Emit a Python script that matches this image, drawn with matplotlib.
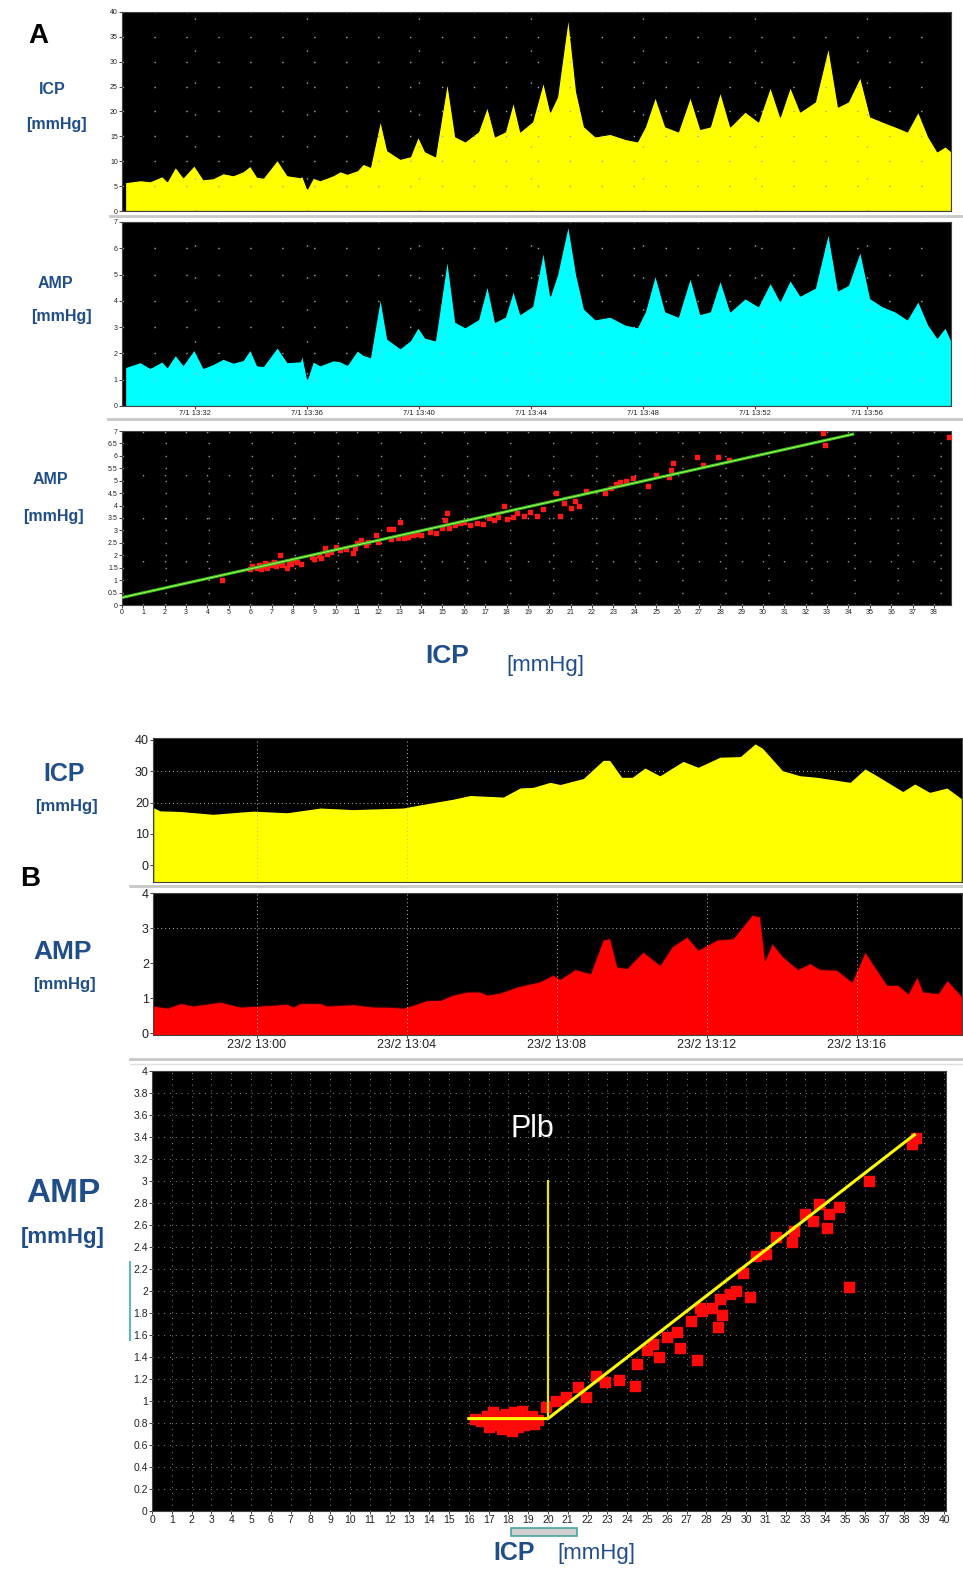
import numpy as np
import matplotlib
matplotlib.use('Agg')
import matplotlib.pyplot as plt
from matplotlib.lines import Line2D
from matplotlib.patches import Rectangle

W, H = 963, 1570

# painel A: tendencias (minutos desde 13:00)
t_a = [29.50, 30.04, 30.39, 30.82, 31.00, 31.29, 31.57, 31.96, 32.29, 32.64,
       33.00, 33.36, 33.71, 33.96, 34.21, 34.43, 34.93, 35.29, 35.75, 35.82,
       36.00, 36.21, 36.46, 36.93, 37.18, 37.43, 37.79, 38.00, 38.25, 38.61,
       38.86, 39.32, 39.68, 39.96, 40.21, 40.57, 41.00, 41.29, 41.64, 42.11,
       42.43, 42.71, 43.07, 43.36, 43.61, 44.04, 44.43, 44.68, 44.93, 45.32,
       45.61, 45.89, 46.29, 46.82, 47.36, 47.79, 48.07, 48.43, 48.79, 49.25,
       49.68, 50.04, 50.39, 50.75, 51.11, 51.64, 52.11, 52.54, 52.89, 53.25,
       53.61, 54.14, 54.61, 54.96, 55.32, 55.75, 56.11, 56.54, 57.00, 57.43,
       57.82, 58.18, 58.50, 58.79, 59.00]
icp_a = [5.8, 6.2, 6.0, 7.0, 6.0, 8.9, 6.8, 9.2, 6.4, 6.6,
         7.6, 7.2, 8.0, 9.1, 6.9, 6.7, 10.3, 7.2, 6.8, 7.1,
         4.5, 6.7, 6.2, 7.2, 8.0, 7.5, 8.2, 9.5, 8.9, 18.3,
         12.2, 10.5, 11.0, 15.0, 12.0, 11.0, 26.0, 15.0, 14.0, 16.0,
         21.0, 15.0, 16.0, 22.0, 16.0, 18.0, 26.0, 20.0, 23.0, 39.0,
         24.0, 17.0, 15.0, 15.5, 14.5, 14.0, 17.0, 23.0, 17.0, 16.0,
         23.0, 16.5, 17.0, 24.0, 17.0, 20.0, 18.0, 25.0, 19.0, 25.0,
         20.0, 22.0, 33.0, 21.0, 22.0, 27.0, 19.0, 18.0, 17.0, 16.0,
         20.0, 15.0, 12.0, 13.0, 12.0]
amp_a = [1.48, 1.67, 1.45, 1.70, 1.48, 1.95, 1.57, 2.15, 1.45, 1.60,
         1.80, 1.65, 1.75, 2.15, 1.55, 1.52, 2.24, 1.67, 1.70, 1.95,
         1.04, 1.70, 1.55, 1.74, 1.70, 1.57, 2.12, 1.95, 1.86, 4.14,
         2.56, 2.20, 2.50, 3.00, 2.60, 2.50, 5.60, 3.20, 3.00, 3.30,
         4.60, 3.20, 3.40, 4.40, 3.50, 3.80, 5.90, 4.20, 5.00, 6.90,
         5.00, 3.70, 3.30, 3.40, 3.10, 3.00, 3.60, 5.00, 3.60, 3.40,
         4.90, 3.50, 3.60, 4.80, 3.60, 4.10, 3.80, 4.70, 4.00, 4.80,
         4.20, 4.50, 6.60, 4.40, 4.60, 5.90, 4.10, 3.80, 3.60, 3.30,
         4.00, 3.10, 2.60, 3.00, 2.50]
ticks_a = [32, 36, 40, 44, 48, 52, 56]
labels_a = ['7/1 13:32', '7/1 13:36', '7/1 13:40', '7/1 13:44',
            '7/1 13:48', '7/1 13:52', '7/1 13:56']

# painel A: AMP x ICP
sc_a_icp = [4.7, 6.0, 6.1, 6.3, 6.4, 6.5, 6.6, 6.7, 6.8, 6.9, 7.0, 7.1, 7.2, 7.3,
            7.4, 7.5, 7.7, 7.8, 7.9, 8.0, 8.2, 8.4, 8.9, 9.0, 9.2, 9.3, 9.5, 9.6,
            9.8, 10.0, 10.2, 10.5, 10.8, 10.9, 11.0, 11.2, 11.4, 11.5, 11.9, 12.0,
            12.5, 12.6, 12.7, 12.9, 13.0, 13.2, 13.4, 13.6, 13.8, 14.0, 14.4, 14.7,
            15.0, 15.1, 15.2, 15.3, 15.6, 15.8, 16.0, 16.3, 16.6, 16.9, 17.2, 17.4,
            17.6, 17.9, 18.0, 18.3, 18.5, 18.8, 19.1, 19.4, 19.7, 20.3, 20.5, 20.7,
            21.0, 21.2, 21.4, 21.7, 22.6, 22.9, 23.1, 23.3, 23.6, 23.9, 24.6, 25.0,
            25.6, 25.7, 25.8, 26.9, 27.2, 27.9, 28.4, 32.8, 32.9, 38.7]
sc_a_amp = [1.0, 1.45, 1.55, 1.5, 1.6, 1.45, 1.55, 1.7, 1.5, 1.65, 1.6, 1.75, 1.55, 1.7,
            2.0, 1.6, 1.5, 1.7, 1.65, 1.8, 1.75, 1.65, 1.95, 1.85, 2.0, 1.9, 2.3, 2.05,
            2.15, 2.35, 2.2, 2.25, 2.1, 2.3, 2.5, 2.6, 2.4, 2.55, 2.8, 2.55,
            3.05, 2.65, 3.05, 2.7, 3.35, 2.7, 2.75, 2.8, 2.85, 2.8, 2.95, 2.9,
            3.1, 3.4, 3.7, 3.1, 3.2, 3.3, 3.35, 3.2, 3.3, 3.25, 3.5, 3.4,
            3.55, 4.0, 3.45, 3.55, 3.7, 3.6, 3.75, 3.6, 3.85, 4.5, 3.6, 4.1,
            3.9, 4.2, 4.0, 4.6, 4.5, 4.7, 4.85, 4.95, 5.0, 5.1, 4.8, 5.25,
            5.15, 5.45, 5.7, 5.95, 5.65, 5.95, 5.85, 6.9, 6.45, 6.75]
fit_a_icp = [0.0, 34.2]
fit_a_amp = [0.3, 6.87]

# painel B: tendencias (minutos desde 12:00)
t_icp_b = [57.23, 57.42, 57.96, 58.83, 59.55, 59.90, 60.81, 61.69, 62.57, 63.90,
           64.35, 65.23, 65.69, 66.57, 67.02, 67.37, 67.82, 68.09, 68.70, 69.23,
           69.42, 69.74, 70.01, 70.35, 70.75, 71.37, 71.77, 72.35, 72.89, 73.29,
           73.50, 74.03, 74.49, 74.94, 75.82, 76.22, 76.54, 77.23, 77.55, 77.95,
           78.41, 78.81]
icp_b = [18.7, 17.6, 17.4, 16.5, 17.2, 17.5, 17.0, 18.5, 18.0, 18.5,
         19.5, 21.3, 22.5, 22.0, 24.9, 25.1, 26.7, 26.0, 27.9, 33.7,
         33.7, 28.3, 28.3, 31.3, 28.8, 33.4, 31.5, 34.7, 34.9, 39.0,
         37.5, 30.4, 28.8, 28.3, 26.7, 31.0, 28.8, 23.8, 26.2, 23.5,
         24.9, 21.4]
t_amp_b = [57.23, 57.61, 57.96, 58.30, 59.02, 59.55, 60.09, 60.81, 60.97, 61.15,
           61.69, 61.87, 62.57, 63.10, 63.47, 63.90, 64.17, 64.54, 64.89, 65.23,
           65.61, 65.95, 66.14, 66.49, 66.94, 67.21, 67.55, 67.90, 68.09, 68.49,
           68.89, 69.23, 69.42, 69.61, 69.87, 70.30, 70.75, 71.07, 71.47, 71.77,
           72.27, 72.70, 73.21, 73.42, 73.55, 73.74, 74.03, 74.43, 74.75, 75.02,
           75.47, 75.87, 76.22, 76.54, 76.81, 77.10, 77.37, 77.61, 77.77, 78.17,
           78.41, 78.81]
amp_b = [0.79, 0.73, 0.86, 0.79, 0.90, 0.76, 0.79, 0.84, 0.76, 0.86,
         0.86, 0.79, 0.83, 0.76, 0.76, 0.73, 0.81, 0.95, 0.95, 1.10,
         1.19, 1.19, 1.10, 1.16, 1.33, 1.40, 1.48, 1.67, 1.55, 1.83,
         1.71, 2.67, 2.71, 1.90, 1.86, 2.33, 1.95, 2.47, 2.76, 2.38,
         2.67, 2.71, 3.38, 3.33, 2.09, 2.57, 2.19, 1.83, 2.00, 1.83,
         1.81, 1.47, 2.33, 1.81, 1.38, 1.38, 1.14, 1.62, 1.19, 1.14,
         1.52, 1.05]
ticks_b = [60, 64, 68, 72, 76]
labels_b = ['23/2 13:00', '23/2 13:04', '23/2 13:08', '23/2 13:12', '23/2 13:16']

# painel B: AMP x ICP
sc_b_icp = [16.3, 16.6, 16.9, 17.0, 17.1, 17.2, 17.4, 17.5, 17.7, 17.8, 17.9, 18.0,
            18.1, 18.2, 18.3, 18.4, 18.5, 18.6, 18.7, 18.8, 18.9, 19.0, 19.2, 19.3,
            19.5, 19.9, 20.4, 20.9, 21.5, 21.9, 22.4, 22.9, 23.6, 24.4, 24.5, 25.0,
            25.3, 25.6, 26.0, 26.5, 26.65, 27.2, 27.5, 27.7, 27.8, 28.3, 28.6, 28.7,
            28.8, 29.2, 29.5, 29.85, 30.2, 30.5, 31.0, 31.5, 32.3, 32.4, 33.0, 33.4,
            33.7, 34.1, 34.2, 34.7, 35.2, 36.2, 38.4, 38.6]
sc_b_amp = [0.84, 0.82, 0.86, 0.76, 0.80, 0.90, 0.78, 0.86, 0.75, 0.82, 0.88, 0.77,
            0.84, 0.73, 0.90, 0.80, 0.76, 0.86, 0.91, 0.78, 0.84, 0.80, 0.86, 0.79,
            0.83, 0.95, 1.00, 1.04, 1.13, 1.04, 1.23, 1.17, 1.19, 1.14, 1.34, 1.46,
            1.52, 1.40, 1.58, 1.63, 1.48, 1.73, 1.37, 1.85, 1.82, 1.85, 1.67, 1.93,
            1.78, 1.97, 2.00, 2.16, 1.95, 2.32, 2.34, 2.49, 2.45, 2.55, 2.70, 2.64,
            2.79, 2.57, 2.70, 2.76, 2.04, 3.00, 3.34, 3.39]
fit_b_icp = [16.0, 20.0, 38.5]
fit_b_amp = [0.84, 0.84, 3.42]
plb_icp = 20.0
plb_amp = [0.84, 3.0]

BLUE = '#1f4e8a'
plt.rcParams['font.family'] = ['Liberation Sans', 'DejaVu Sans']


def px_axes(fig, left, top, right, bottom):
    return fig.add_axes([left / W, 1 - bottom / H, (right - left) / W, (bottom - top) / H])


def px_text(fig, x, y, s, **kw):
    fig.text(x / W, 1 - y / H, s, **kw)


def px_hline(fig, x0, x1, y, color='#c8c8c8', lw=2):
    fig.add_artist(Line2D([x0 / W, x1 / W], [1 - y / H, 1 - y / H], color=color, lw=lw))


def monitor(ax, fs):
    ax.set_facecolor('black')
    for s in ax.spines.values():
        s.set_color('#444444')
        s.set_linewidth(0.8)
    ax.tick_params(labelsize=fs, length=2, width=0.6, colors='#222222', pad=1)


fig = plt.figure(figsize=(W / 100, H / 100), dpi=100)
fig.patch.set_facecolor('white')

# ---- A: ICP ----
ax1 = px_axes(fig, 122, 12, 951, 211)
monitor(ax1, 5)
ax1.fill_between(t_a, icp_a, 0, facecolor='#ffff00', edgecolor='black', lw=0.8)
ax1.set_xlim(29.39, 59.0)
ax1.set_ylim(0, 40)
ax1.set_yticks(range(0, 41, 5))
ax1.set_xticks(ticks_a)
ax1.tick_params(axis='x', labelbottom=False, length=0)
ax1.grid(True, color='#aaaaaa', linestyle=(0, (1, 22)), lw=1)

# ---- A: AMP ----
ax2 = px_axes(fig, 122, 222, 951, 406)
monitor(ax2, 5)
ax2.fill_between(t_a, amp_a, 0, facecolor='#00ffff', edgecolor='black', lw=0.8)
ax2.set_xlim(29.39, 59.0)
ax2.set_ylim(0, 7)
ax2.set_yticks(range(0, 8))
ax2.set_xticks(ticks_a)
ax2.set_xticklabels(labels_a, fontsize=5.5)
ax2.grid(True, color='#aaaaaa', linestyle=(0, (1, 22)), lw=1)

# ---- A: AMP x ICP ----
ax3 = px_axes(fig, 122, 431, 951, 605)
monitor(ax3, 5)
ax3.set_xlim(0, 38.8)
ax3.set_ylim(0, 7)
ax3.set_xticks(range(0, 39))
ax3.set_yticks(np.arange(0, 7.01, 0.5))
ax3.set_yticklabels(['%g' % v for v in np.arange(0, 7.01, 0.5)])
ax3.grid(True, color='#999999', linestyle=(0, (1, 30)), lw=1)
ax3.scatter(sc_a_icp, sc_a_amp, marker='s', s=12, color='#ff1a1a', zorder=3)
ax3.plot(fit_a_icp, fit_a_amp, color='#2fc41e', lw=2.2, zorder=4)
ax3.plot(fit_a_icp, fit_a_amp, color='#c8f060', lw=0.6, zorder=5)

# ---- B: ICP ----
ax4 = px_axes(fig, 153, 738, 962, 882)
monitor(ax4, 9)
ax4.fill_between(t_icp_b, icp_b, -6, facecolor='#ffff00', edgecolor='black', lw=1)
ax4.set_xlim(57.23, 78.81)
ax4.set_ylim(-5.3, 40.6)
ax4.set_yticks([0, 10, 20, 30, 40])
ax4.set_xticks(ticks_b[:2])
ax4.tick_params(axis='x', labelbottom=False, length=0)
ax4.grid(True, axis='x', color='#bbbbbb', linestyle=(0, (1, 3)), lw=0.7)
for lv in (20, 30):
    ax4.axhline(lv, color='#bbbbbb', linestyle=(0, (1, 3)), lw=0.7, zorder=0.5)

# ---- B: AMP ----
ax5 = px_axes(fig, 153, 893, 962, 1035)
monitor(ax5, 9)
ax5.fill_between(t_amp_b, amp_b, -0.1, facecolor='#ff0000', edgecolor='#330000', lw=0.8)
ax5.set_xlim(57.23, 78.81)
ax5.set_ylim(-0.05, 4.0)
ax5.set_yticks([0, 1, 2, 3, 4])
ax5.set_xticks(ticks_b)
ax5.set_xticklabels(labels_b, fontsize=9)
ax5.grid(True, axis='x', color='#bbbbbb', linestyle=(0, (1, 3)), lw=0.7)
ax5.axhline(3, color='#bbbbbb', linestyle=(0, (1, 3)), lw=0.7, zorder=0.5)

# ---- B: AMP x ICP ----
ax6 = px_axes(fig, 152, 1071, 946, 1511)
monitor(ax6, 7.5)
ax6.set_xlim(0, 40.1)
ax6.set_ylim(0, 4)
ax6.set_xticks(range(0, 41))
yt = np.arange(0, 4.01, 0.2)
ax6.set_yticks(yt)
ax6.set_yticklabels(['%g' % round(v, 1) for v in yt])
ax6.grid(True, color='#8a8a8a', linestyle=(0, (1, 5)), lw=0.7)
ax6.scatter(sc_b_icp, sc_b_amp, marker='s', s=42, color='#ff0a0a', zorder=3)
ax6.plot(fit_b_icp, fit_b_amp, color='#ffff00', lw=2.2, zorder=4)
ax6.plot([plb_icp, plb_icp], plb_amp, color='#e8e800', lw=1.6, zorder=4)
ax6.text(19.2, 3.47, 'Plb', color='white', fontsize=22, ha='center', va='center')

# moldura / separadores
px_hline(fig, 110, 962, 216)
px_hline(fig, 108, 962, 419)
px_hline(fig, 130, 962, 886)
px_hline(fig, 130, 962, 1059)
px_hline(fig, 130, 962, 1064, color='#e0e0e0', lw=1)
fig.add_artist(Line2D([130 / W, 130 / W], [1 - 1262 / H, 1 - 1340 / H], color='#5fb7b7', lw=1.5))
fig.add_artist(Rectangle((511 / W, 1 - 1536 / H), 66 / W, 8 / H, facecolor='#d0d0d0',
                         edgecolor='#4aa3a3', lw=1.2))

# rotulos
px_text(fig, 38, 36, 'A', fontsize=20, fontweight='bold', ha='center', va='center')
px_text(fig, 52, 90, 'ICP', fontsize=11.5, fontweight='bold', color=BLUE, ha='center', va='center')
px_text(fig, 56, 125, '[mmHg]', fontsize=11.5, fontweight='bold', color=BLUE, ha='center', va='center')
px_text(fig, 55, 283, 'AMP', fontsize=11.5, fontweight='bold', color=BLUE, ha='center', va='center')
px_text(fig, 61, 316, '[mmHg]', fontsize=11.5, fontweight='bold', color=BLUE, ha='center', va='center')
px_text(fig, 50, 480, 'AMP', fontsize=11.5, fontweight='bold', color=BLUE, ha='center', va='center')
px_text(fig, 53, 517, '[mmHg]', fontsize=11.5, fontweight='bold', color=BLUE, ha='center', va='center')
px_text(fig, 447, 656, 'ICP', fontsize=19, fontweight='bold', color=BLUE, ha='center', va='center')
px_text(fig, 545, 666, '[mmHg]', fontsize=16, color=BLUE, ha='center', va='center')

px_text(fig, 30, 879, 'B', fontsize=20, fontweight='bold', ha='center', va='center')
px_text(fig, 64, 774, 'ICP', fontsize=18, fontweight='bold', color=BLUE, ha='center', va='center')
px_text(fig, 66, 807, '[mmHg]', fontsize=12, fontweight='bold', color=BLUE, ha='center', va='center')
px_text(fig, 63, 952, 'AMP', fontsize=19, fontweight='bold', color=BLUE, ha='center', va='center')
px_text(fig, 64, 984, '[mmHg]', fontsize=12, fontweight='bold', color=BLUE, ha='center', va='center')
px_text(fig, 63, 1193, 'AMP', fontsize=24, fontweight='bold', color=BLUE, ha='center', va='center')
px_text(fig, 63, 1237, '[mmHg]', fontsize=16, fontweight='bold', color=BLUE, ha='center', va='center')
px_text(fig, 514, 1553, 'ICP', fontsize=18, fontweight='bold', color=BLUE, ha='center', va='center')
px_text(fig, 596, 1554, '[mmHg]', fontsize=16, color=BLUE, ha='center', va='center')

fig.savefig('out.png', dpi=100, facecolor='white')
